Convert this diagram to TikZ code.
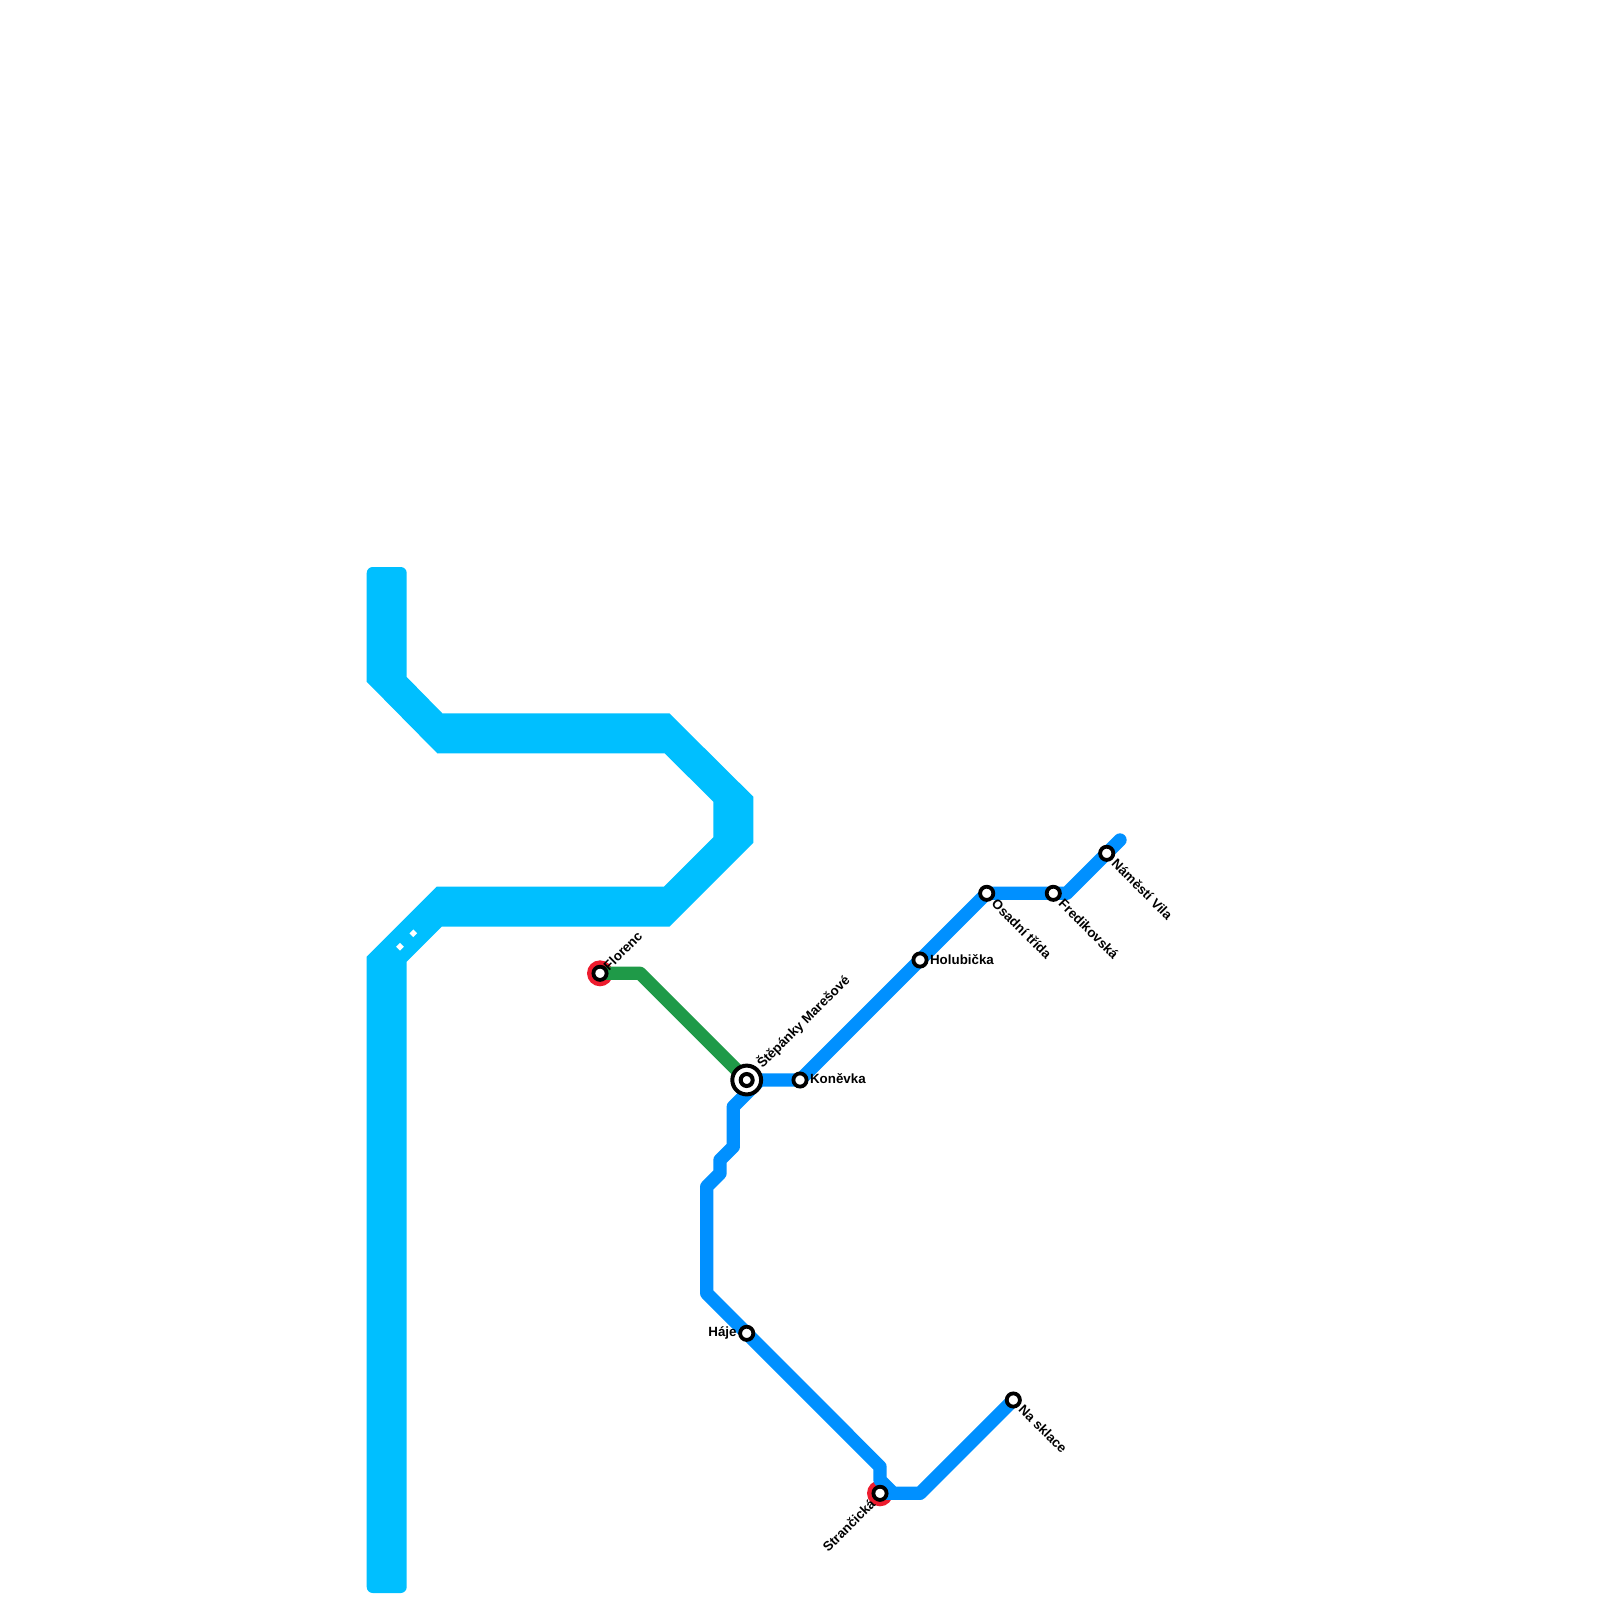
\documentclass[tikz,border=0pt]{standalone}
\usepackage{fontspec}
\setmainfont{Liberation Sans}
\definecolor{skyline}{HTML}{00BFFF}
\definecolor{blueline}{HTML}{0090FF}
\definecolor{greenline}{HTML}{1F9A48}
\definecolor{redmark}{HTML}{ED1C2E}
\usetikzlibrary{shapes.geometric}
\tikzset{
  metro/.style={line width=6.67pt,line join=round,line cap=round},
  station/.style={circle,draw=black,fill=white,line width=1.9pt,minimum size=6.6pt,inner sep=0pt,outer sep=0pt},
  interchange/.style={circle,draw=black,fill=white,line width=2pt,minimum size=14.4pt,inner sep=0pt,outer sep=0pt},
  innerstation/.style={circle,draw=black,fill=white,line width=2pt,minimum size=6pt,inner sep=0pt,outer sep=0pt},
  redring/.style={circle,fill=redmark,minimum size=13pt,inner sep=0pt,outer sep=0pt},
  stationlabel/.style={font=\bfseries\fontsize{6.67pt}{8pt}\selectfont,inner sep=0pt,text=black},
  gap/.style={fill=white,diamond,minimum size=4pt,inner sep=0pt}
}
\begin{document}
\begin{tikzpicture}[x=0.5pt,y=-0.5pt]
\useasboundingbox (0,0) rectangle (1600,1600);
% broad sky-blue band
\fill[skyline] (366.7,620) [rounded corners=3pt] -- (366.7,567) -- (406.7,567) [sharp corners] -- (406.7,677)
  -- (442.3,713.3) -- (669.3,713.3) -- (753.3,796.7) -- (753.3,842.7) -- (669.3,926.7)
  -- (441.7,926.7) -- (406.7,961.7) [rounded corners=3pt] -- (406.7,1593) -- (366.7,1593) [sharp corners]
  -- (366.7,956.7) -- (436.7,886.7) -- (664,886.7) -- (713.3,837.3) -- (713.3,801.7)
  -- (664.7,753.3) -- (437.3,753.3) -- (366.7,681.7) -- cycle;
\node[gap] (gapa) at (413.3,933.3) {};
\node[gap] (gapb) at (400,946.7) {};
% red marks
\node[redring] (redF) at (600,973.3) {};
\node[redring] (redS) at (880,1493.3) {};
% anchor points
\coordinate (gF) at (640,973.3);
\coordinate (b0) at (1120,840);
\coordinate (b1) at (1066.7,893.3);
\coordinate (b2) at (760,1080);
\coordinate (b3) at (733.3,1106.7);
\coordinate (b4) at (733.3,1146.7);
\coordinate (b5) at (720,1160);
\coordinate (b6) at (720,1173.3);
\coordinate (b7) at (706.7,1186.7);
\coordinate (b8) at (706.7,1293.3);
\coordinate (b9) at (880,1466.7);
\coordinate (b10) at (880,1480);
\coordinate (b11) at (893.3,1493.3);
\coordinate (b12) at (920,1493.3);
% station positions
\coordinate (pF) at (600,973.3);
\coordinate (pM) at (746.7,1080);
\coordinate (pK) at (800,1080);
\coordinate (pH) at (920,960);
\coordinate (pO) at (986.7,893.3);
\coordinate (pR) at (1053.3,893.3);
\coordinate (pV) at (1106.7,853.3);
\coordinate (pN) at (1013.3,1400);
\coordinate (pS) at (880,1493.3);
\coordinate (pJ) at (746.7,1333.3);
% lines
\draw[metro,greenline] (pF) -- (gF) -- (pM);
\draw[metro,blueline] (b0) -- (pV) -- (b1) -- (pR) -- (pO) -- (pH) -- (pK) -- (b2) -- (b3) -- (b4) -- (b5) -- (b6) -- (b7) -- (b8) -- (pJ) -- (b9) -- (b10) -- (b11) -- (b12) -- (pN);
\draw[metro,blueline] (pS) -- (b11);
% stations
\node[station] (nF) at (pF) {};
\node[interchange] (nM) at (pM) {};
\node[innerstation] (nMi) at (pM) {};
\node[station] (nK) at (pK) {};
\node[station] (nH) at (pH) {};
\node[station] (nO) at (pO) {};
\node[station] (nR) at (pR) {};
\node[station] (nV) at (pV) {};
\node[station] (nN) at (pN) {};
\node[station] (nS) at (pS) {};
\node[station] (nJ) at (pJ) {};
% labels
\node[stationlabel,anchor=west,rotate=45] (lF) at (605.5,968) {Florenc};
\node[stationlabel,anchor=west,rotate=45] (lM) at (759,1066) {Štěpánky Marešové};
\node[stationlabel,anchor=west] (lK) at (809.7,1079) {Koněvka};
\node[stationlabel,anchor=west] (lH) at (929.7,959.5) {Holubička};
\node[stationlabel,anchor=west,rotate=-45] (lO) at (994,901) {Osadní třída};
\node[stationlabel,anchor=west,rotate=-45] (lR) at (1061,901) {Fredikovská};
\node[stationlabel,anchor=west,rotate=-45] (lV) at (1114,861) {Náměstí Vila};
\node[stationlabel,anchor=west,rotate=-45] (lN) at (1021,1407) {Na sklace};
\node[stationlabel,anchor=east] (lJ) at (737,1333) {Háje};
\node[stationlabel,anchor=east,rotate=45] (lS) at (873,1501) {Strančická};
\end{tikzpicture}
\end{document}
